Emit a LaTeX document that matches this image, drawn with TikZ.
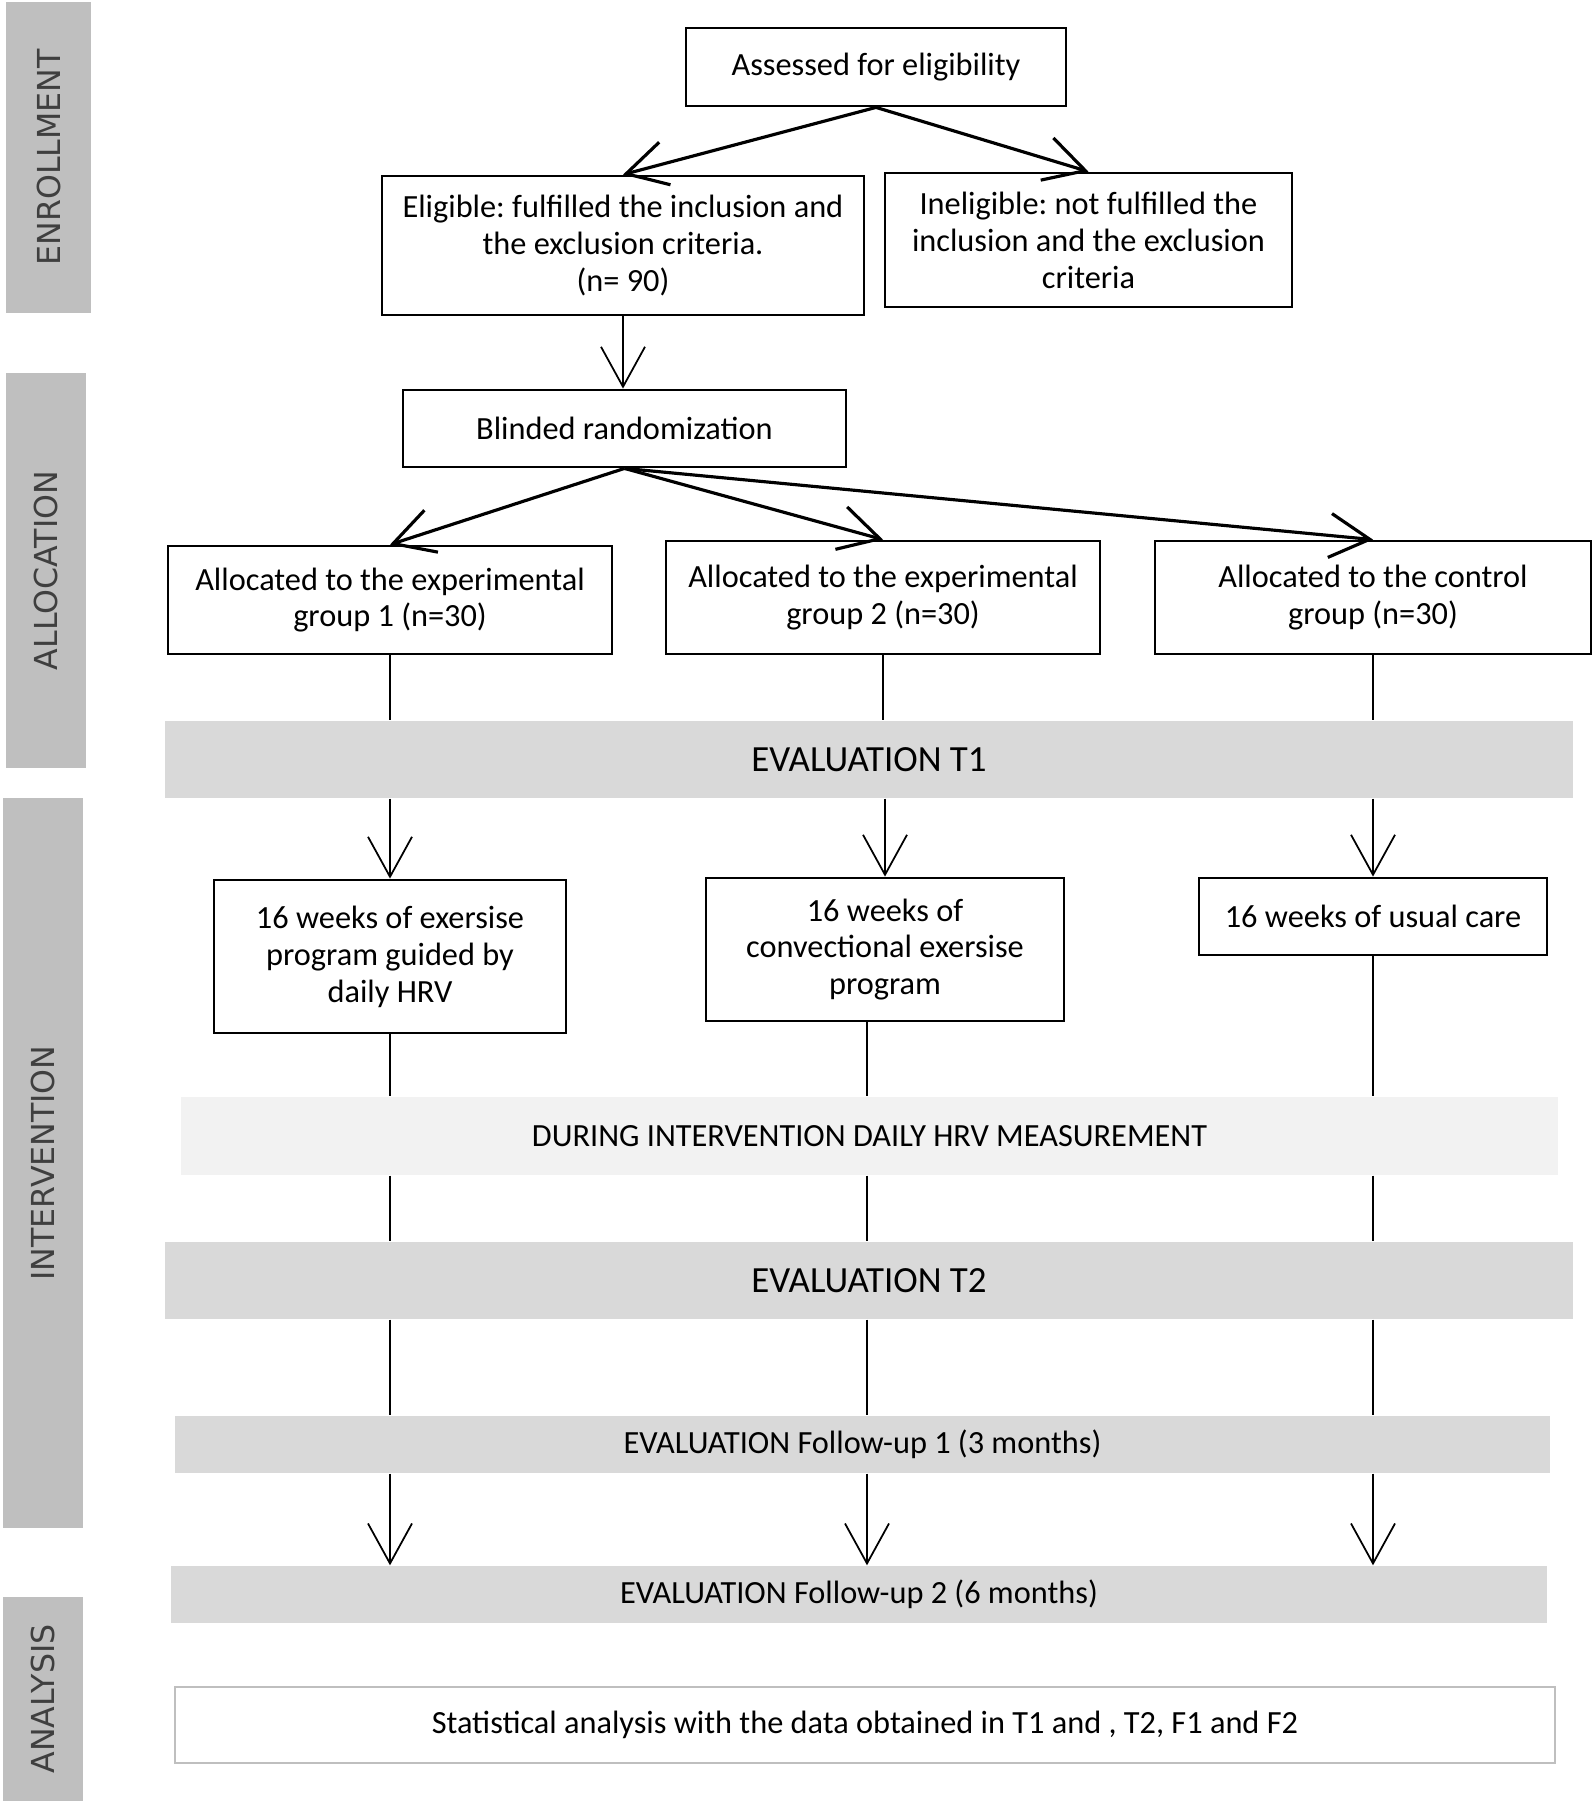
\documentclass[tikz,border=0pt]{standalone}
\usepackage{fontspec}
\setmainfont{Carlito}
\newfontfamily\sidefont{DejaVu Sans}
\usetikzlibrary{arrows.meta}
\definecolor{bandgray}{HTML}{D9D9D9}
\definecolor{lightband}{HTML}{F2F2F2}
\definecolor{sidegray}{HTML}{BFBFBF}
\definecolor{sidetext}{HTML}{3F3F3F}
\frenchspacing

\begin{document}
\begin{tikzpicture}[
		box/.style={draw, line width=0.8pt, align=center, inner sep=2pt, font=\fontsize{9.2}{10.5}\selectfont},
		band/.style={fill=bandgray, inner sep=0pt, font=\fontsize{9.2}{10.5}\selectfont},
		bigband/.style={band, font=\fontsize{10.5}{12}\selectfont},
		sidebar/.style={fill=sidegray, rotate=90, inner sep=0pt, text=sidetext, font=\sidefont\fontsize{9}{10}\selectfont},
		barb/.style={-{Straight Barb[length=0.4cm,width=0.44cm]}},
		flow/.style={line width=0.5pt}
	]
		\useasboundingbox (0,0) rectangle (15.94,-18.04);
		% phases
		\node[sidebar, minimum width=3.11cm, minimum height=0.85cm] (enr) at (0.485,-1.575) {ENROLLMENT};
		\node[sidebar, minimum width=3.95cm, minimum height=0.80cm] (alc) at (0.46,-5.705) {ALLOCATION};
		\node[sidebar, minimum width=7.30cm, minimum height=0.80cm] (itv) at (0.43,-11.63) {INTERVENTION};
		\node[sidebar, minimum width=2.04cm, minimum height=0.80cm] (ana) at (0.43,-16.99) {ANALYSIS};
		% boxes
		\node[box, minimum width=3.80cm, minimum height=0.78cm] (assess) at (8.76,-0.67) {Assessed for eligibility};
		\node[box, minimum width=4.82cm, minimum height=1.39cm] (elig) at (6.23,-2.455) {Eligible: fulfilled the inclusion and\\ the exclusion criteria.\\ (n= 90)};
		\node[box, minimum width=4.07cm, minimum height=1.34cm] (inel) at (10.885,-2.40) {Ineligible: not fulfilled the\\ inclusion and the exclusion\\ criteria};
		\node[box, minimum width=4.43cm, minimum height=0.77cm] (rand) at (6.245,-4.285) {Blinded randomization};
		\node[box, minimum width=4.44cm, minimum height=1.08cm] (g1) at (3.90,-6.00) {Allocated to the experimental\\ group 1 (n=30)};
		\node[box, minimum width=4.34cm, minimum height=1.13cm] (g2) at (8.83,-5.975) {Allocated to the experimental\\ group 2 (n=30)};
		\node[box, minimum width=4.36cm, minimum height=1.13cm] (g3) at (13.73,-5.975) {Allocated to the control\\ group (n=30)};
		\node[bigband, minimum width=14.08cm, minimum height=0.77cm] (t1) at (8.69,-7.595) {EVALUATION T1};
		\node[box, minimum width=3.52cm, minimum height=1.53cm] (w1) at (3.90,-9.565) {16 weeks of exersise\\ program guided by\\ daily HRV};
		\node[box, minimum width=3.58cm, minimum height=1.43cm] (w2) at (8.85,-9.495) {16 weeks of\\ convectional exersise\\ program};
		\node[box, minimum width=3.48cm, minimum height=0.77cm] (w3) at (13.73,-9.165) {16 weeks of usual care};
		\node[band, fill=lightband, minimum width=13.77cm, minimum height=0.78cm] (hrv) at (8.695,-11.36) {DURING INTERVENTION DAILY HRV MEASUREMENT};
		\node[bigband, minimum width=14.08cm, minimum height=0.77cm] (t2) at (8.69,-12.805) {EVALUATION T2};
		\node[band, minimum width=13.75cm, minimum height=0.57cm] (f1) at (8.625,-14.445) {EVALUATION Follow-up 1 (3 months)};
		\node[band, minimum width=13.76cm, minimum height=0.57cm] (f2) at (8.59,-15.945) {EVALUATION Follow-up 2 (6 months)};
		\node[box, draw=sidegray, line width=0.6pt, minimum width=13.80cm, minimum height=0.76cm] (stat) at (8.65,-17.25) {Statistical analysis with the data obtained in T1 and , T2, F1 and F2};
		% arrows
		\draw[line width=0.9pt, barb] (assess.south) -- (elig.north);
		\draw[line width=0.9pt, barb] (assess.south) -- (inel.north);
		\draw[flow, barb] (elig.south) -- (elig.south |- rand.north);
		\foreach \g in {g1,g2,g3}
			\draw[line width=0.9pt, barb] (rand.south) -- (\g.north);
		\foreach \g/\w in {g1/w1,g2/w2,g3/w3}{
			\draw[flow] (\g.south) -- (\g.south |- t1.north);
			\draw[flow, barb] (\w.north |- t1.south) -- (\w.north);
		}
		\coordinate (k1) at (w1.south);
		\coordinate (k2) at ([xshift=-0.18cm]w2.south);
		\coordinate (k3) at (w3.south);
		\foreach \k in {k1,k2,k3}{
			\draw[flow] (\k) -- (\k |- hrv.north);
			\draw[flow] (\k |- hrv.south) -- (\k |- t2.north);
			\draw[flow] (\k |- t2.south) -- (\k |- f1.north);
			\draw[flow, barb] (\k |- f1.south) -- (\k |- f2.north);
		}
\end{tikzpicture}
\end{document}
